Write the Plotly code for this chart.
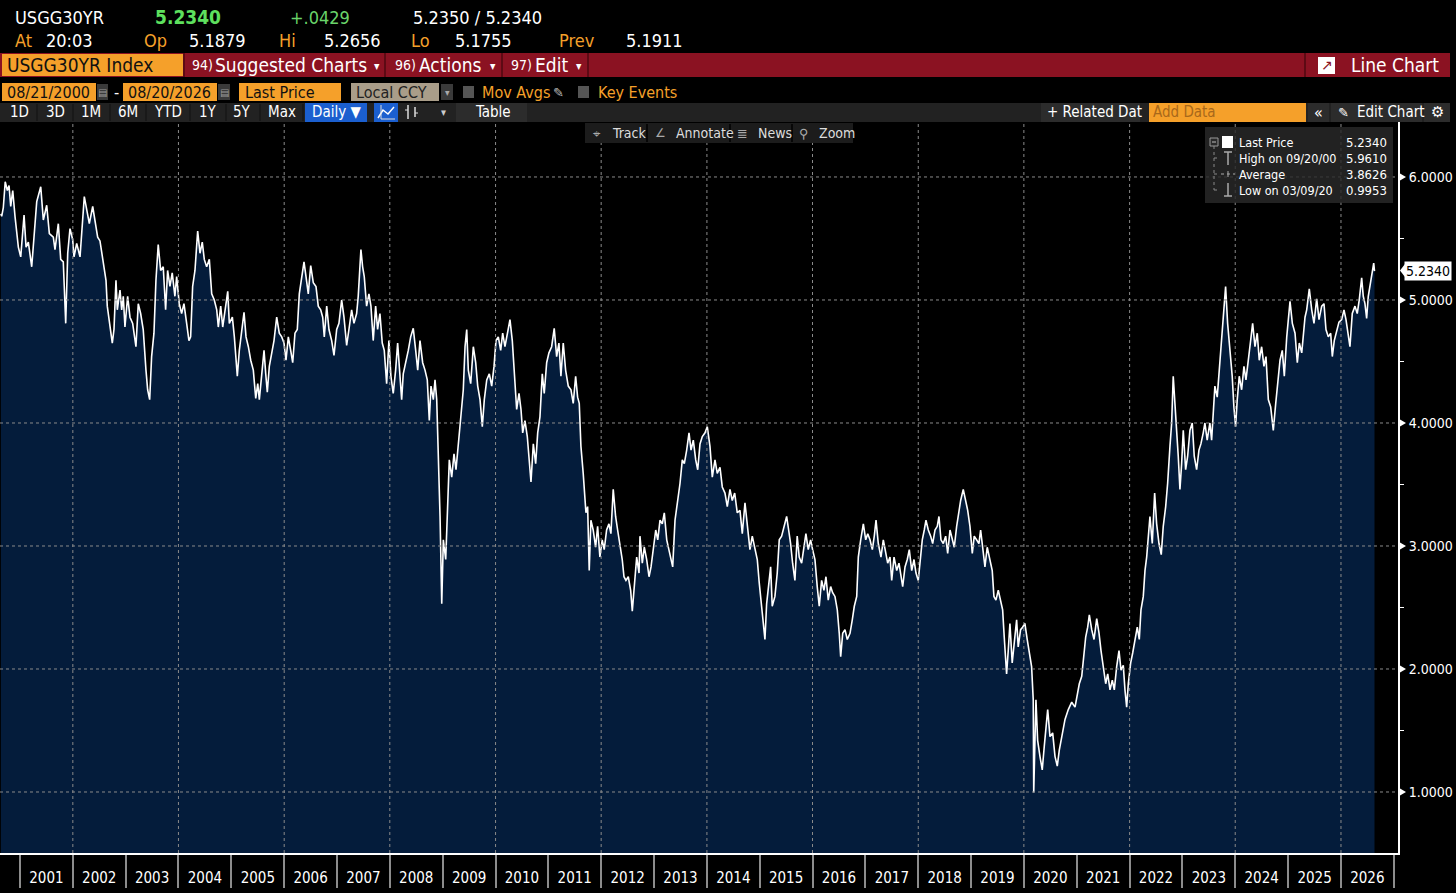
import pandas as pd
import plotly.graph_objects as go

# ---------------- data ----------------
# time expressed as decimal years, yield in percent
YEARS = [
    2000.638, 2000.654, 2000.684, 2000.720, 2000.760, 2000.792, 2000.824, 2000.862, 2000.905, 2000.968,
    2001.013, 2001.076, 2001.114, 2001.157, 2001.221, 2001.265, 2001.316, 2001.392, 2001.441, 2001.505,
    2001.555, 2001.630, 2001.662, 2001.725, 2001.770, 2001.819, 2001.865, 2001.903, 2001.946, 2001.997,
    2002.022, 2002.073, 2002.136, 2002.217, 2002.274, 2002.312, 2002.376, 2002.419, 2002.470, 2002.514,
    2002.565, 2002.628, 2002.652, 2002.703, 2002.747, 2002.779, 2002.817, 2002.842, 2002.893, 2002.925,
    2002.955, 2002.987, 2003.038, 2003.082, 2003.133, 2003.195, 2003.239, 2003.284, 2003.333, 2003.385,
    2003.417, 2003.455, 2003.492, 2003.536, 2003.574, 2003.617, 2003.663, 2003.712, 2003.757, 2003.795,
    2003.839, 2003.882, 2003.933, 2003.966, 2004.015, 2004.060, 2004.104, 2004.155, 2004.198, 2004.230,
    2004.268, 2004.312, 2004.363, 2004.407, 2004.450, 2004.488, 2004.533, 2004.583, 2004.628, 2004.677,
    2004.723, 2004.753, 2004.798, 2004.836, 2004.880, 2004.931, 2004.961, 2005.018, 2005.056, 2005.112,
    2005.150, 2005.196, 2005.239, 2005.277, 2005.321, 2005.366, 2005.415, 2005.461, 2005.499, 2005.529,
    2005.574, 2005.618, 2005.650, 2005.680, 2005.718, 2005.764, 2005.807, 2005.858, 2005.907, 2005.953,
    2005.996, 2006.034, 2006.078, 2006.123, 2006.161, 2006.204, 2006.248, 2006.286, 2006.331, 2006.375,
    2006.413, 2006.456, 2006.502, 2006.551, 2006.602, 2006.645, 2006.691, 2006.729, 2006.759, 2006.805,
    2006.848, 2006.899, 2006.943, 2006.994, 2007.037, 2007.088, 2007.132, 2007.183, 2007.226, 2007.277,
    2007.321, 2007.372, 2007.402, 2007.453, 2007.485, 2007.516, 2007.561, 2007.605, 2007.643, 2007.686,
    2007.732, 2007.769, 2007.813, 2007.857, 2007.895, 2007.940, 2007.983, 2008.021, 2008.065, 2008.110,
    2008.148, 2008.192, 2008.224, 2008.254, 2008.305, 2008.349, 2008.394, 2008.443, 2008.489, 2008.527,
    2008.570, 2008.621, 2008.665, 2008.708, 2008.746, 2008.778, 2008.822, 2008.854, 2008.886, 2008.916,
    2008.949, 2008.981, 2009.011, 2009.056, 2009.094, 2009.124, 2009.170, 2009.213, 2009.251, 2009.295,
    2009.340, 2009.389, 2009.422, 2009.454, 2009.484, 2009.529, 2009.579, 2009.624, 2009.662, 2009.706,
    2009.749, 2009.787, 2009.833, 2009.882, 2009.927, 2009.971, 2010.008, 2010.052, 2010.097, 2010.135,
    2010.178, 2010.222, 2010.273, 2010.317, 2010.355, 2010.400, 2010.444, 2010.482, 2010.514, 2010.557,
    2010.601, 2010.639, 2010.671, 2010.715, 2010.760, 2010.798, 2010.841, 2010.885, 2010.922, 2010.968,
    2011.011, 2011.062, 2011.111, 2011.157, 2011.200, 2011.238, 2011.282, 2011.327, 2011.377, 2011.428,
    2011.471, 2011.517, 2011.554, 2011.585, 2011.617, 2011.660, 2011.712, 2011.744, 2011.774, 2011.806,
    2011.849, 2011.895, 2011.933, 2011.976, 2012.020, 2012.058, 2012.103, 2012.147, 2012.184, 2012.228,
    2012.273, 2012.311, 2012.355, 2012.398, 2012.431, 2012.468, 2012.512, 2012.557, 2012.588, 2012.625,
    2012.671, 2012.715, 2012.733, 2012.777, 2012.815, 2012.860, 2012.904, 2012.942, 2012.985, 2013.031,
    2013.069, 2013.112, 2013.155, 2013.193, 2013.239, 2013.282, 2013.320, 2013.352, 2013.396, 2013.440,
    2013.491, 2013.534, 2013.572, 2013.617, 2013.661, 2013.699, 2013.742, 2013.788, 2013.826, 2013.869,
    2013.913, 2013.964, 2014.007, 2014.058, 2014.102, 2014.153, 2014.196, 2014.248, 2014.291, 2014.342,
    2014.386, 2014.437, 2014.480, 2014.526, 2014.575, 2014.626, 2014.670, 2014.721, 2014.764, 2014.815,
    2014.859, 2014.910, 2014.954, 2014.991, 2015.037, 2015.067, 2015.099, 2015.131, 2015.175, 2015.207,
    2015.237, 2015.288, 2015.332, 2015.370, 2015.415, 2015.459, 2015.510, 2015.548, 2015.585, 2015.623,
    2015.667, 2015.710, 2015.748, 2015.794, 2015.837, 2015.875, 2015.919, 2015.964, 2016.002, 2016.046,
    2016.089, 2016.127, 2016.172, 2016.216, 2016.254, 2016.297, 2016.343, 2016.380, 2016.424, 2016.468,
    2016.505, 2016.532, 2016.570, 2016.613, 2016.657, 2016.708, 2016.751, 2016.789, 2016.835, 2016.865,
    2016.910, 2016.960, 2017.005, 2017.043, 2017.086, 2017.130, 2017.167, 2017.200, 2017.243, 2017.294,
    2017.338, 2017.383, 2017.421, 2017.465, 2017.497, 2017.541, 2017.592, 2017.635, 2017.673, 2017.705,
    2017.749, 2017.792, 2017.830, 2017.876, 2017.919, 2017.957, 2018.000, 2018.033, 2018.076, 2018.114,
    2018.146, 2018.190, 2018.235, 2018.273, 2018.317, 2018.360, 2018.392, 2018.430, 2018.474, 2018.519,
    2018.557, 2018.601, 2018.644, 2018.682, 2018.727, 2018.771, 2018.803, 2018.852, 2018.898, 2018.936,
    2018.979, 2019.023, 2019.060, 2019.106, 2019.149, 2019.181, 2019.219, 2019.263, 2019.306, 2019.357,
    2019.401, 2019.433, 2019.471, 2019.515, 2019.560, 2019.598, 2019.628, 2019.673, 2019.704, 2019.736,
    2019.779, 2019.817, 2019.863, 2019.893, 2019.938, 2019.976, 2020.019, 2020.063, 2020.114, 2020.146,
    2020.177, 2020.186, 2020.228, 2020.260, 2020.304, 2020.347, 2020.385, 2020.450, 2020.493, 2020.544,
    2020.588, 2020.631, 2020.669, 2020.720, 2020.777, 2020.839, 2020.904, 2020.966, 2021.010, 2021.047,
    2021.093, 2021.123, 2021.168, 2021.206, 2021.237, 2021.282, 2021.326, 2021.377, 2021.421, 2021.458,
    2021.502, 2021.547, 2021.585, 2021.629, 2021.672, 2021.710, 2021.755, 2021.799, 2021.837, 2021.880,
    2021.912, 2021.944, 2021.975, 2022.020, 2022.058, 2022.101, 2022.145, 2022.183, 2022.215, 2022.259,
    2022.291, 2022.323, 2022.353, 2022.385, 2022.429, 2022.474, 2022.512, 2022.556, 2022.599, 2022.637,
    2022.683, 2022.720, 2022.764, 2022.796, 2022.826, 2022.858, 2022.890, 2022.921, 2022.953, 2022.985,
    2023.016, 2023.061, 2023.099, 2023.142, 2023.186, 2023.224, 2023.269, 2023.313, 2023.350, 2023.394,
    2023.426, 2023.469, 2023.520, 2023.553, 2023.583, 2023.615, 2023.659, 2023.697, 2023.729, 2023.772,
    2023.818, 2023.856, 2023.900, 2023.943, 2023.975, 2024.007, 2024.038, 2024.076, 2024.121, 2024.165,
    2024.203, 2024.246, 2024.291, 2024.329, 2024.373, 2024.416, 2024.454, 2024.499, 2024.543, 2024.581,
    2024.625, 2024.670, 2024.719, 2024.765, 2024.802, 2024.846, 2024.889, 2024.927, 2024.973, 2025.003,
    2025.035, 2025.079, 2025.130, 2025.173, 2025.211, 2025.257, 2025.287, 2025.319, 2025.351, 2025.400,
    2025.446, 2025.489, 2025.540, 2025.584, 2025.635, 2025.678, 2025.716, 2025.760, 2025.805, 2025.836,
    2025.873, 2025.919, 2025.962, 2026.013, 2026.057, 2026.095, 2026.138, 2026.170, 2026.214, 2026.265,
    2026.308, 2026.346, 2026.392, 2026.422, 2026.454, 2026.486, 2026.517, 2026.562, 2026.600, 2026.620,
    2026.635,
]

YIELDS = [
    5.70, 5.68, 5.75, 5.961, 5.89, 5.93, 5.76, 5.89, 5.68, 5.43,
    5.35, 5.69, 5.43, 5.47, 5.27, 5.51, 5.80, 5.92, 5.65, 5.77,
    5.54, 5.51, 5.41, 5.62, 5.33, 5.31, 4.81, 5.38, 5.58, 5.49,
    5.35, 5.46, 5.35, 5.84, 5.70, 5.62, 5.76, 5.65, 5.51, 5.48,
    5.35, 5.16, 4.95, 4.78, 4.65, 4.76, 5.16, 4.92, 5.08, 4.92,
    5.03, 4.78, 5.03, 4.86, 4.81, 4.62, 4.97, 4.89, 4.76, 4.43,
    4.27, 4.19, 4.54, 4.73, 5.16, 5.45, 5.24, 5.27, 4.92, 5.24,
    5.11, 5.22, 5.03, 5.19, 4.97, 4.89, 4.97, 4.81, 4.67, 4.70,
    5.11, 5.24, 5.56, 5.38, 5.47, 5.33, 5.27, 5.33, 5.05, 5.00,
    4.92, 4.78, 4.95, 4.78, 4.92, 5.07, 4.81, 4.86, 4.70, 4.38,
    4.59, 4.76, 4.90, 4.70, 4.62, 4.51, 4.43, 4.20, 4.32, 4.19,
    4.43, 4.59, 4.40, 4.25, 4.46, 4.57, 4.67, 4.86, 4.73, 4.70,
    4.65, 4.51, 4.70, 4.59, 4.49, 4.73, 4.76, 5.05, 5.19, 5.31,
    5.19, 5.05, 5.28, 5.14, 5.11, 4.95, 4.92, 4.86, 4.70, 4.95,
    4.76, 4.67, 4.55, 4.76, 4.81, 5.00, 4.86, 4.63, 4.76, 4.92,
    4.81, 4.89, 5.03, 5.41, 5.27, 5.19, 4.95, 5.05, 4.95, 4.67,
    4.95, 4.76, 4.89, 4.65, 4.59, 4.32, 4.67, 4.38, 4.24, 4.43,
    4.65, 4.35, 4.19, 4.40, 4.49, 4.59, 4.70, 4.77, 4.59, 4.43,
    4.67, 4.49, 4.43, 4.35, 4.02, 4.30, 4.19, 4.35, 4.19, 3.81,
    3.24, 2.53, 3.05, 2.89, 3.46, 3.70, 3.56, 3.75, 3.62, 3.83,
    4.05, 4.27, 4.62, 4.76, 4.43, 4.32, 4.62, 4.49, 4.30, 4.19,
    3.97, 4.19, 4.35, 4.40, 4.30, 4.46, 4.67, 4.70, 4.59, 4.73,
    4.62, 4.73, 4.84, 4.67, 4.43, 4.11, 4.24, 4.11, 3.92, 4.02,
    3.89, 3.70, 3.52, 3.83, 3.67, 3.92, 4.05, 4.40, 4.24, 4.49,
    4.57, 4.62, 4.77, 4.54, 4.65, 4.38, 4.65, 4.43, 4.30, 4.27,
    4.16, 4.38, 4.21, 4.16, 3.81, 3.59, 3.27, 3.32, 2.80, 3.21,
    3.13, 2.99, 3.16, 2.91, 3.05, 2.97, 3.13, 3.18, 3.10, 3.46,
    3.24, 3.13, 3.02, 2.89, 2.75, 2.72, 2.75, 2.64, 2.47, 2.70,
    2.91, 2.78, 3.08, 2.86, 2.99, 2.89, 2.75, 2.83, 2.97, 3.13,
    3.05, 3.21, 3.18, 3.27, 3.05, 2.97, 2.89, 2.83, 3.21, 3.35,
    3.51, 3.70, 3.67, 3.78, 3.92, 3.78, 3.86, 3.70, 3.62, 3.83,
    3.89, 3.92, 3.97, 3.81, 3.56, 3.70, 3.59, 3.64, 3.48, 3.43,
    3.32, 3.46, 3.37, 3.43, 3.27, 3.29, 3.10, 3.35, 3.16, 2.97,
    3.08, 2.99, 2.89, 2.70, 2.51, 2.43, 2.24, 2.53, 2.72, 2.83,
    2.51, 2.59, 2.78, 3.05, 3.08, 3.16, 3.24, 3.13, 3.02, 2.86,
    2.72, 3.08, 2.91, 2.86, 2.99, 3.10, 2.97, 3.05, 2.97, 2.89,
    2.67, 2.51, 2.72, 2.64, 2.75, 2.56, 2.67, 2.62, 2.59, 2.48,
    2.29, 2.10, 2.29, 2.32, 2.24, 2.29, 2.40, 2.51, 2.59, 2.91,
    3.05, 3.18, 3.05, 3.10, 3.05, 2.97, 3.08, 3.21, 3.02, 2.91,
    3.05, 2.94, 2.86, 2.91, 2.72, 2.91, 2.80, 2.86, 2.75, 2.67,
    2.83, 2.89, 2.97, 2.80, 2.89, 2.78, 2.72, 2.89, 3.05, 3.13,
    3.21, 3.13, 3.08, 3.02, 3.13, 3.16, 3.24, 3.05, 3.02, 3.08,
    2.94, 3.13, 3.05, 2.99, 3.16, 3.29, 3.37, 3.46, 3.37, 3.29,
    3.16, 2.94, 3.08, 3.05, 3.02, 3.13, 2.99, 2.83, 2.99, 2.89,
    2.80, 2.59, 2.56, 2.64, 2.56, 2.48, 2.26, 1.96, 2.15, 2.37,
    2.05, 2.24, 2.40, 2.18, 2.32, 2.34, 2.37, 2.24, 2.10, 2.02,
    1.75, 0.9953, 1.75, 1.42, 1.29, 1.18, 1.37, 1.67, 1.45, 1.48,
    1.29, 1.21, 1.34, 1.46, 1.59, 1.67, 1.73, 1.69, 1.80, 1.88,
    1.94, 2.07, 2.26, 2.34, 2.44, 2.32, 2.24, 2.41, 2.29, 2.15,
    2.02, 1.88, 1.96, 1.83, 1.91, 1.83, 2.02, 2.15, 1.99, 2.03,
    1.83, 1.69, 1.88, 2.05, 2.13, 2.24, 2.34, 2.24, 2.48, 2.59,
    2.80, 2.91, 3.05, 3.24, 3.02, 3.43, 3.18, 3.02, 2.93, 3.16,
    3.32, 3.51, 3.81, 4.00, 4.38, 4.19, 3.94, 3.73, 3.46, 3.67,
    3.94, 3.62, 3.73, 3.94, 4.00, 3.73, 3.62, 3.78, 3.83, 3.92,
    4.00, 3.86, 4.00, 3.86, 4.05, 4.30, 4.21, 4.43, 4.59, 4.86,
    5.11, 4.81, 4.59, 4.38, 4.13, 3.97, 4.19, 4.38, 4.27, 4.46,
    4.35, 4.49, 4.67, 4.81, 4.62, 4.73, 4.51, 4.62, 4.46, 4.54,
    4.19, 4.13, 3.94, 4.16, 4.32, 4.51, 4.59, 4.38, 4.70, 4.86,
    4.99, 4.81, 4.73, 4.49, 4.65, 4.57, 4.73, 4.86, 4.92, 5.09,
    4.92, 4.81, 5.01, 4.84, 4.95, 4.97, 4.76, 4.70, 4.73, 4.54,
    4.67, 4.76, 4.82, 4.84, 4.92, 4.84, 4.73, 4.62, 4.89, 4.95,
    4.89, 5.00, 5.18, 5.03, 4.97, 4.85, 5.03, 5.14, 5.22, 5.30,
    5.234,
]

TICKER = "USGG30YR"
LAST_PRICE = 5.2340
CHANGE = "+.0429"
BID_ASK = "5.2350 / 5.2340"
OPEN_PX, HIGH_PX, LOW_PX, PREV_PX = 5.1879, 5.2656, 5.1755, 5.1911
HIGH_VAL, HIGH_DATE = 5.9610, "09/20/00"
AVG_VAL = 3.8626
LOW_VAL, LOW_DATE = 0.9953, "03/09/20"
Y_TICKS = [1, 2, 3, 4, 5, 6]
Y_MINOR = [0.5, 1.5, 2.5, 3.5, 4.5, 5.5]
GRID_YEARS = list(range(2002, 2027, 2))


def dec_to_date(v):
    yr = int(v)
    start = pd.Timestamp(yr, 1, 1)
    end = pd.Timestamp(yr + 1, 1, 1)
    return start + (end - start) * (v - yr)


dates = [dec_to_date(v) for v in YEARS]

# ---------------- geometry helpers ----------------
W, H = 1456, 893
ML, MR, MT, MB = 0, 58, 122, 40
PW, PH = W - ML - MR, H - MT - MB
Y_RANGE = [0.504, 6.447]
PX_PER_UNIT = PH / (Y_RANGE[1] - Y_RANGE[0])


def fx(px):
    return (px - ML) / PW


def fy(py):
    return (H - MB - py) / PH


FONT = '"Liberation Sans Narrow", "DejaVu Sans Condensed", "Arial Narrow", sans-serif'
ORANGE = "#f5a02a"
RED = "#8b1222"
GRID = "#8a8a8a"

ann = []
shp = []


def txt(x, y, s, color="white", size=17, anchor="left", family=FONT, yref="paper"):
    ann.append(dict(x=fx(x), y=fy(y) if yref == "paper" else y, xref="paper", yref=yref,
                    text=s, showarrow=False, xanchor=anchor, yanchor="middle",
                    font=dict(color=color, size=size, family=family)))


def rect(x0, y0, x1, y1, fill, line_color=None, lw=0, opacity=1.0):
    shp.append(dict(type="rect", xref="paper", yref="paper",
                    x0=fx(x0), x1=fx(x1), y0=fy(y1), y1=fy(y0),
                    fillcolor=fill, opacity=opacity,
                    line=dict(color=line_color or fill, width=lw), layer="above"))


def pline(x0, y0, x1, y1, color, w=1, dash="solid"):
    shp.append(dict(type="line", xref="paper", yref="paper",
                    x0=fx(x0), x1=fx(x1), y0=fy(y0), y1=fy(y1),
                    line=dict(color=color, width=w, dash=dash), layer="above"))


# ---------------- gridlines (drawn above the fill, as in the terminal) ----------------
for v in Y_TICKS:
    shp.append(dict(type="line", xref="paper", x0=0, x1=1, yref="y", y0=v, y1=v,
                    line=dict(color=GRID, width=1, dash="dot"), layer="above"))
    # small pointer triangle next to each axis label
    d = 3.5 / PX_PER_UNIT
    shp.append(dict(type="path", xref="paper", yref="y", layer="above",
                    path=f"M {fx(1400)},{v + d} L {fx(1406)},{v} L {fx(1400)},{v - d} Z",
                    fillcolor="white", line=dict(color="white", width=0)))
for yr in GRID_YEARS:
    shp.append(dict(type="line", xref="x", x0=f"{yr}-01-01", x1=f"{yr}-01-01", yref="paper", y0=0, y1=1,
                    line=dict(color=GRID, width=1, dash="dot"), layer="above"))

# ---------------- header ----------------
txt(13, 17, TICKER, size=18)
txt(153, 17, f"<b>{LAST_PRICE:.4f}</b>", color="#5ee05e", size=19)
txt(288, 17, CHANGE, color="#6ad46a", size=18)
txt(411, 17, BID_ASK, size=18)
txt(13, 41, "At", color=ORANGE, size=18)
txt(44, 41, "20:03", size=18)
txt(142, 41, "Op", color=ORANGE, size=18)
txt(187, 41, f"{OPEN_PX:.4f}", size=18)
txt(277, 41, "Hi", color=ORANGE, size=18)
txt(322, 41, f"{HIGH_PX:.4f}", size=18)
txt(409, 41, "Lo", color=ORANGE, size=18)
txt(453, 41, f"{LOW_PX:.4f}", size=18)
txt(557, 41, "Prev", color=ORANGE, size=18)
txt(624, 41, f"{PREV_PX:.4f}", size=18)

# red command bar
rect(0, 53, 1450, 77, RED)
rect(2, 54, 183, 76, ORANGE)
txt(5, 65, f"{TICKER} Index", color="#111111", size=19)
for sx in (184, 385, 502, 588, 1305):
    pline(sx, 53, sx, 77, "#4e0810", 1.5)
txt(190, 65, "94)", size=14)
txt(213, 65, "Suggested Charts", size=19)
txt(372, 66, "▾", size=12)
txt(393, 65, "96)", size=14)
txt(417, 65, "Actions", size=19)
txt(488, 66, "▾", size=12)
txt(509, 65, "97)", size=14)
txt(533, 65, "Edit", size=19)
txt(574, 66, "▾", size=12)
rect(1318, 57, 1335, 74, "white")
txt(1326.5, 65, "↗", color=RED, size=14, anchor="center", family="DejaVu Sans")
txt(1349, 65, "Line Chart", size=19)

# date / field row
rect(2, 83, 96, 101, ORANGE)
txt(5, 92, "08/21/2000", color="#111111", size=16)
rect(97, 84, 108, 100, "#3a3a3a")
txt(102.5, 92, "▤", color="#9a9a9a", size=10, anchor="center", family="DejaVu Sans")
txt(116, 92, "-", size=16, anchor="center")
rect(123, 83, 217, 101, ORANGE)
txt(126, 92, "08/20/2026", color="#111111", size=16)
rect(218, 84, 230, 100, "#3a3a3a")
txt(224, 92, "▤", color="#9a9a9a", size=10, anchor="center", family="DejaVu Sans")
rect(239, 83, 341, 101, ORANGE)
txt(243, 92, "Last Price", color="#111111", size=16)
rect(351, 83, 439, 101, "#a99d89")
txt(354, 92, "Local CCY", color="#222222", size=16)
rect(441, 84, 453, 100, "#3a3a3a")
txt(447, 92, "▾", color="#aaaaaa", size=10, anchor="center")
rect(463, 86, 474, 98, "#555555")
txt(480, 92, "Mov Avgs", color=ORANGE, size=16)
txt(558, 92, "✎", color="#bbbbbb", size=13, anchor="center", family="DejaVu Sans")
rect(578, 86, 589, 98, "#555555")
txt(596, 92, "Key Events", color=ORANGE, size=16)

# period buttons row
rect(0, 103, 1450, 122, "#222222")
for lbl, cx in (("1D", 19), ("3D", 55), ("1M", 91), ("6M", 128), ("YTD", 168),
                ("1Y", 208), ("5Y", 242), ("Max", 282)):
    txt(cx, 112, lbl, size=15, anchor="center")
for sx in (37, 73, 110, 146, 190, 226, 260, 303):
    pline(sx, 104, sx, 121, "#111111", 1)
rect(305, 103, 367, 122, "#1b5fcf")
txt(336, 112, "Daily ▼", size=15, anchor="center")
rect(374, 103, 398, 122, "#1b5fcf")
shp.append(dict(type="path", xref="paper", yref="paper", layer="above",
                path=f"M {fx(378)},{fy(118)} L {fx(383)},{fy(110)} L {fx(388)},{fy(114)} L {fx(394)},{fy(107)}",
                line=dict(color="white", width=1.5)))
pline(381, 105, 381, 119, "#dddddd", 1)
pline(381, 119, 395, 119, "#dddddd", 1)
pline(408, 105, 408, 119, "#dddddd", 1.5)
pline(415, 107, 415, 117, "#dddddd", 1.5)
pline(405, 110, 408, 110, "#dddddd", 1)
pline(415, 113, 418, 113, "#dddddd", 1)
txt(443, 112, "▾", color="#cccccc", size=11, anchor="center")
rect(456, 103, 527, 122, "#2c2c2c")
txt(493, 112, "Table", size=15, anchor="center")
rect(1041, 103, 1140, 122, "#2c2c2c")
txt(1045, 112, "+ Related Dat", size=15)
rect(1149, 103, 1306, 122, ORANGE)
txt(1151, 112, "Add Data", color="#a8681a", size=15)
rect(1308, 103, 1329, 122, "#2c2c2c")
txt(1318.5, 112, "«", size=16, anchor="center")
rect(1331, 103, 1422, 122, "#2c2c2c")
txt(1343, 112, "✎", size=13, anchor="center", family="DejaVu Sans")
txt(1355, 112, "Edit Chart", size=15)
rect(1424, 103, 1450, 122, "#2c2c2c")
txt(1437, 112, "⚙", size=15, anchor="center", family="DejaVu Sans")

# chart toolbar
rect(585, 123, 853, 143, "#1c1c1c")
for sx in (647, 730, 792):
    pline(sx, 124, sx, 142, "#000000", 1.5)
txt(597, 133, "⌖", color="#aaaaaa", size=13, anchor="center", family="DejaVu Sans")
txt(610, 133, "Track", color="#dddddd", size=14)
txt(660, 133, "∠", color="#aaaaaa", size=12, anchor="center", family="DejaVu Sans")
txt(674, 133, "Annotate", color="#dddddd", size=14)
txt(742, 133, "≣", color="#aaaaaa", size=13, anchor="center", family="DejaVu Sans")
txt(756, 133, "News", color="#dddddd", size=14)
txt(804, 133, "⚲", color="#aaaaaa", size=13, anchor="center", family="DejaVu Sans")
txt(817, 133, "Zoom", color="#dddddd", size=14)

# legend box
rect(1205, 127, 1393, 203, "#2a2a2a", opacity=0.82)
pline(1214, 146, 1214, 190, "#888888", 1, "dot")
for ly in (158, 174, 190):
    pline(1214, ly, 1220, ly, "#888888", 1, "dot")
rect(1210, 138, 1218, 146, "#2a2a2a", "#999999", 1)
pline(1212, 142, 1216, 142, "#bbbbbb", 1)
rect(1222, 136, 1233, 148, "white")
pline(1224, 152, 1232, 152, "#aaaaaa", 1.5)
pline(1228, 152, 1228, 165, "#aaaaaa", 1.5)
pline(1221, 174, 1235, 174, "#aaaaaa", 1, "dot")
pline(1228, 171, 1228, 177, "#aaaaaa", 1)
pline(1228, 183, 1228, 196, "#aaaaaa", 1.5)
pline(1224, 196, 1232, 196, "#aaaaaa", 1.5)
legend_rows = [("Last Price", LAST_PRICE, 142), (f"High on {HIGH_DATE}", HIGH_VAL, 158),
               ("Average", AVG_VAL, 174), (f"Low on {LOW_DATE}", LOW_VAL, 190)]
for name, val, ly in legend_rows:
    txt(1237, ly, name, size=12.5)
    txt(1389, ly, f"{val:.4f}", size=13, anchor="right")

# last price marker on the axis
shp.append(dict(type="path", xref="paper", yref="paper", layer="above",
                path=f"M {fx(1400)},{fy(270.5)} L {fx(1405)},{fy(264)} L {fx(1405)},{fy(277)} Z",
                fillcolor="white", line=dict(color="white", width=0)))
ann.append(dict(x=fx(1404), y=LAST_PRICE, xref="paper", yref="y", text=f"{LAST_PRICE:.4f}",
                showarrow=False, xanchor="left", yanchor="middle", bgcolor="white",
                borderpad=1, font=dict(color="black", size=14, family=FONT)))

# ---------------- figure ----------------
fig = go.Figure()
fig.add_trace(go.Scatter(x=dates, y=YIELDS, mode="lines",
                         line=dict(color="white", width=1.6),
                         fill="tozeroy", fillcolor="#041c3b", hoverinfo="skip"))

fig.update_layout(
    width=W, height=H,
    margin=dict(l=ML, r=MR, t=MT, b=MB, pad=0),
    paper_bgcolor="black", plot_bgcolor="black",
    showlegend=False, hovermode=False,
    xaxis=dict(type="date",
               range=[dec_to_date(2000.6215).strftime("%Y-%m-%d %H:%M"),
                      dec_to_date(2027.08).strftime("%Y-%m-%d %H:%M")],
               tick0="2001-01-01", dtick="M12", tickformat="%Y", ticklabelmode="period",
               ticks="outside", ticklen=33, tickwidth=2, tickcolor="#8c8c8c",
               ticklabelstandoff=-23,
               showgrid=False, zeroline=False, showline=True, linecolor="white", linewidth=2,
               tickfont=dict(color="white", size=15, family=FONT), fixedrange=True),
    yaxis=dict(side="right", range=Y_RANGE,
               tickvals=Y_TICKS,
               ticktext=[f"{v:.4f}" for v in Y_TICKS],
               ticks="", ticklabelstandoff=6, showgrid=False, zeroline=False, showline=True,
               linecolor="white", linewidth=2,
               minor=dict(tickmode="array", tickvals=Y_MINOR, ticks="outside", ticklen=4,
                          tickcolor="white", tickwidth=1, showgrid=False),
               tickfont=dict(color="white", size=14, family=FONT), fixedrange=True),
    shapes=shp,
    annotations=ann,
)

fig.write_html("out.html", config={"displayModeBar": False},
               post_script="document.body.style.margin='0';document.body.style.background='black';")
